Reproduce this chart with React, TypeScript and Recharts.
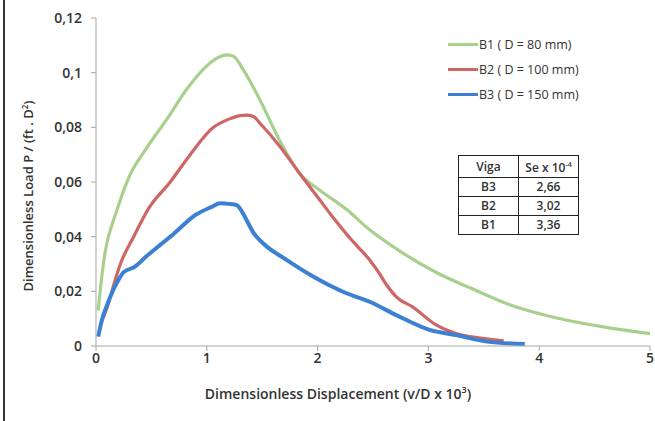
import React from 'react';
import { LineChart, Line, XAxis, YAxis } from 'recharts';

const b1X = [0.02, 0.04, 0.07, 0.1, 0.15, 0.2, 0.25, 0.3, 0.45, 0.64, 0.82, 1.0, 1.1, 1.18, 1.24, 1.33, 1.48, 1.66, 1.84, 2.02, 2.26, 2.47, 2.77, 3.08, 3.38, 3.74, 4.12, 4.58, 5.0];
const b1Y = [0.013, 0.021, 0.031, 0.038, 0.045, 0.051, 0.057, 0.062, 0.072, 0.083, 0.094, 0.1025, 0.1055, 0.1065, 0.106, 0.101, 0.09, 0.075, 0.063, 0.057, 0.05, 0.0425, 0.034, 0.0267, 0.0212, 0.015, 0.0106, 0.007, 0.0045];

const b2X = [0.05, 0.1, 0.15, 0.22, 0.34, 0.47, 0.67, 0.85, 1.06, 1.2, 1.3, 1.36, 1.42, 1.48, 1.66, 1.84, 2.02, 2.14, 2.26, 2.37, 2.47, 2.55, 2.62, 2.71, 2.86, 3.07, 3.25, 3.47, 3.68];
const b2Y = [0.009, 0.014, 0.021, 0.03, 0.04, 0.05, 0.06, 0.07, 0.08, 0.083, 0.0843, 0.0845, 0.084, 0.0815, 0.073, 0.063, 0.0534, 0.047, 0.041, 0.036, 0.0315, 0.027, 0.0225, 0.018, 0.0142, 0.0077, 0.0046, 0.0029, 0.0019];

const b3X = [0.02, 0.05, 0.1, 0.15, 0.2, 0.25, 0.35, 0.46, 0.58, 0.7, 0.9, 1.05, 1.12, 1.2, 1.27, 1.32, 1.36, 1.42, 1.51, 1.72, 1.96, 2.26, 2.47, 2.71, 3.01, 3.25, 3.53, 3.87];
const b3Y = [0.0034, 0.009, 0.015, 0.02, 0.024, 0.027, 0.029, 0.033, 0.037, 0.041, 0.048, 0.051, 0.0522, 0.052, 0.0515, 0.049, 0.046, 0.0415, 0.0375, 0.0315, 0.0254, 0.0193, 0.0162, 0.0113, 0.0059, 0.004, 0.0016, 0.0007];

const xTicks = [0, 1, 2, 3, 4, 5];
const yTicks = [0, 0.02, 0.04, 0.06, 0.08, 0.1, 0.12];

const seriesNames = ['B1 ( D = 80 mm)', 'B2 ( D = 100 mm)', 'B3 ( D = 150 mm)'];
const seriesColors = ['#a8d08d', '#cd6664', '#3b80d2'];

const tableHead = ['Viga', 'Se x 10'];
const tableVigas = ['B3', 'B2', 'B1'];
const tableSe = ['2,66', '3,02', '3,36'];

const toPoints = (xs: number[], ys: number[]) => xs.map((x, i) => ({ x, y: ys[i] }));

const FONT = '"Open Sans", sans-serif';
const TXT = '#333';

export default function App() {
  const b1 = toPoints(b1X, b1Y);
  const b2 = toPoints(b2X, b2Y);
  const b3 = toPoints(b3X, b3Y);
  const tick = { fill: TXT, fontSize: 14, fontWeight: 600, fontFamily: FONT };
  const cell = { border: '1.5px solid #222', padding: 0 };

  return (
    <div style={{ position: 'absolute', left: 0, top: 0, width: 655, height: 421, background: '#fff', fontFamily: FONT, overflow: 'hidden' }}>
      <div style={{ position: 'absolute', left: 3, top: 0, width: 2, height: 421, background: '#333' }} />
      <LineChart width={655} height={421} margin={{ top: 18, right: 5, bottom: 45, left: 36 }}>
        <XAxis
          type="number"
          dataKey="x"
          domain={[0, 5]}
          ticks={xTicks}
          allowDataOverflow
          stroke="#a6a6a6"
          tickSize={5}
          height={30}
          tick={tick}
        />
        <YAxis
          type="number"
          dataKey="y"
          domain={[0, 0.12]}
          ticks={yTicks}
          stroke="#a6a6a6"
          tickSize={5}
          tickMargin={9}
          width={60}
          tick={tick}
          tickFormatter={(v: number) => String(v).replace('.', ',')}
        />
        <Line data={b1} dataKey="y" type="monotone" stroke={seriesColors[0]} strokeWidth={3.2} dot={false} isAnimationActive={false} />
        <Line data={b2} dataKey="y" type="monotone" stroke={seriesColors[1]} strokeWidth={3.2} dot={false} isAnimationActive={false} />
        <Line data={b3} dataKey="y" type="monotone" stroke={seriesColors[2]} strokeWidth={4} dot={false} isAnimationActive={false} />
      </LineChart>

      <div style={{ position: 'absolute', left: 28, top: 196, transform: 'translate(-50%, -50%) rotate(-90deg)', whiteSpace: 'nowrap', fontSize: 13, fontWeight: 600, color: TXT }}>
        Dimensionless Load P / (ft . D<sup style={{ fontSize: 8 }}>2</sup>)
      </div>
      <div style={{ position: 'absolute', left: 338, top: 393, transform: 'translate(-50%, -50%)', whiteSpace: 'nowrap', fontSize: 14, fontWeight: 600, color: TXT }}>
        Dimensionless Displacement (v/D x 10<sup style={{ fontSize: 9 }}>3</sup>)
      </div>

      {seriesNames.map((name, i) => (
        <div key={name} style={{ position: 'absolute', left: 448, top: 44 + i * 25 - 9, height: 18, display: 'flex', alignItems: 'center' }}>
          <div style={{ width: 30, height: 3, background: seriesColors[i] }} />
          <span style={{ marginLeft: 1, fontSize: 12.5, color: TXT }}>{name}</span>
        </div>
      ))}

      <table style={{ position: 'absolute', left: 458, top: 155, width: 121, borderCollapse: 'collapse', fontSize: 12, fontWeight: 600, color: TXT, textAlign: 'center', lineHeight: '14px' }}>
        <tbody>
          <tr style={{ height: 22 }}>
            <td style={{ ...cell, width: 60 }}>{tableHead[0]}</td>
            <td style={{ ...cell, width: 60 }}>
              {tableHead[1]}<sup style={{ fontSize: 7 }}>-4</sup>
            </td>
          </tr>
          {tableVigas.map((v, i) => (
            <tr key={v} style={{ height: 19 }}>
              <td style={cell}>{v}</td>
              <td style={cell}>{tableSe[i]}</td>
            </tr>
          ))}
        </tbody>
      </table>
    </div>
  );
}
